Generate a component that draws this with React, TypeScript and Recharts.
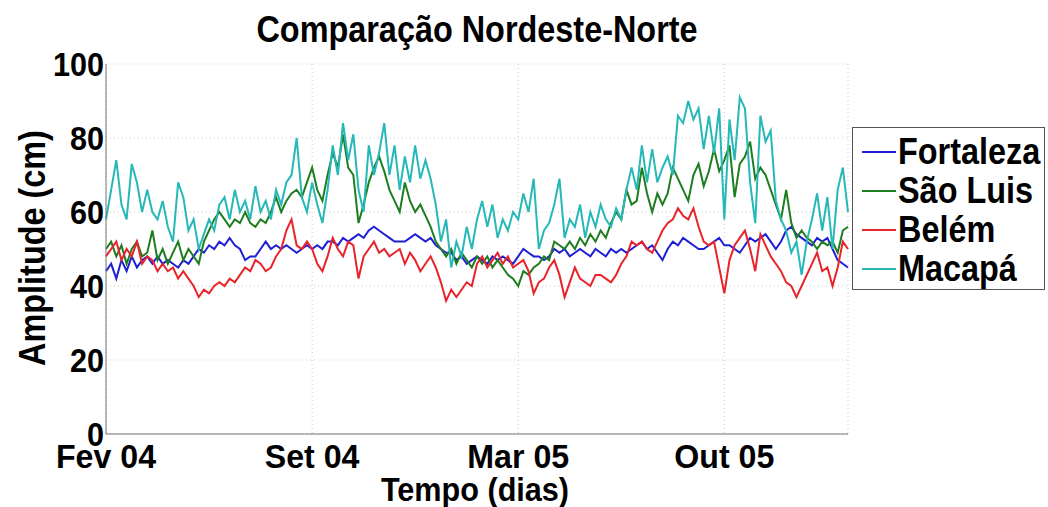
import React from "react";
import {
  LineChart,
  Line,
  XAxis,
  YAxis,
  CartesianGrid,
} from "recharts";

// dias desde Fev 04, amostrado a cada 5 dias
const days = Array.from({ length: 145 }, (_, i) => i * 5);

const xTicks = [0, 200, 400, 600];
const xTickLabels = ["Fev 04", "Set 04", "Mar 05", "Out 05"];
const yTicks = [0, 20, 40, 60, 80, 100];

const fortaleza = [
  44, 46, 42, 47, 44, 48, 45, 47, 48, 46, 48, 46, 47, 46, 45, 47, 46, 48, 50, 49,
  51, 50, 52, 51, 53, 51, 50, 47, 48, 48, 50, 52, 50, 51, 50, 51, 50, 49, 50, 51,
  50, 51, 50, 52, 52, 51, 53, 52, 53, 54, 53, 55, 56, 55, 54, 53, 52, 52, 52, 53,
  54, 53, 52, 53, 51, 50, 49, 49, 47, 48, 46, 47, 48, 47, 46, 48, 47, 48, 47, 46,
  48, 50, 49, 48, 48, 47, 48, 50, 49, 50, 48, 49, 50, 49, 48, 50, 49, 48, 50, 49,
  50, 49, 50, 51, 52, 50, 51, 49, 47, 50, 52, 51, 53, 52, 51, 50, 50, 51, 52, 53,
  51, 51, 50, 49, 51, 53, 52, 53, 54, 52, 50, 52, 55, 56, 54, 53, 52, 51, 53, 52,
  53, 50, 47, 46, 45,
];

const saoLuis = [
  50, 52, 48, 51, 46, 50, 52, 48, 49, 55, 47, 50, 46, 49, 52, 47, 50, 48, 46, 52,
  55, 58, 60, 58, 56, 58, 57, 60, 57, 56, 58, 57, 60, 64, 60, 63, 65, 66, 64, 68,
  72, 66, 63, 70, 76, 72, 81, 72, 70, 57, 62, 68, 72, 75, 71, 66, 63, 60, 68, 63,
  60, 62, 59, 56, 52, 50, 48, 50, 46, 49, 47, 45, 48, 46, 48, 45, 47, 45, 43, 42,
  40, 44, 43, 45, 46, 48, 47, 52, 51, 50, 52, 50, 53, 51, 54, 52, 55, 53, 57, 60,
  58, 66, 62, 63, 72, 65, 60, 65, 62, 65, 72, 69, 66, 63, 70, 73, 67, 71, 77, 71,
  74, 78, 64, 73, 75, 79, 69, 72, 70, 66, 62, 58, 66, 57, 53, 55, 53, 52, 50, 52,
  51, 52, 49, 55, 56,
];

const belem = [
  48, 50, 52, 47, 50, 48, 52, 46, 48, 47, 44, 46, 44, 45, 42, 44, 42, 40, 37, 39,
  38, 40, 41, 40, 42, 41, 43, 45, 44, 47, 46, 44, 45, 48, 50, 55, 58, 51, 50, 52,
  50, 46, 44, 48, 53, 50, 48, 52, 51, 42, 48, 50, 52, 49, 50, 48, 49, 50, 46, 49,
  47, 44, 46, 48, 45, 41, 36, 39, 37, 39, 41, 40, 46, 48, 45, 47, 49, 46, 48, 45,
  46, 47, 44, 38, 41, 42, 45, 47, 43, 37, 41, 45, 42, 41, 40, 43, 43, 42, 41, 43,
  46, 48, 52, 51, 52, 50, 49, 52, 55, 57, 58, 61, 59, 58, 61, 56, 52, 51, 52, 45,
  38, 47, 51, 53, 55, 50, 44, 54, 51, 48, 46, 44, 41, 40, 37, 40, 43, 46, 49, 44,
  45, 40, 45, 52, 50,
];

const macapa = [
  58, 66, 74, 62, 58, 73, 68, 60, 66, 60, 58, 63, 56, 52, 68, 64, 55, 58, 50, 54,
  58, 55, 62, 64, 58, 66, 60, 63, 58, 67, 60, 63, 58, 66, 62, 68, 70, 80, 64, 60,
  68, 62, 57, 66, 78, 70, 84, 74, 81, 66, 60, 78, 70, 76, 84, 70, 78, 66, 75, 68,
  78, 69, 74, 69, 62, 52, 58, 45, 52, 48, 56, 50, 58, 63, 56, 62, 53, 58, 55, 60,
  58, 65, 60, 69, 50, 55, 57, 62, 69, 53, 58, 56, 62, 53, 60, 56, 62, 58, 56, 61,
  58, 66, 72, 66, 78, 68, 77, 68, 72, 75, 70, 86, 84, 90, 85, 88, 77, 86, 76, 88,
  58, 85, 74, 91, 88, 68, 57, 86, 79, 82, 63, 58, 55, 49, 52, 43, 52, 58, 65, 55,
  64, 50, 66, 72, 60,
];

const series = [
  { key: "fortaleza", name: "Fortaleza", color: "#1f1fd6" },
  { key: "saoLuis", name: "São Luis", color: "#1e7d1e" },
  { key: "belem", name: "Belém", color: "#e8242a" },
  { key: "macapa", name: "Macapá", color: "#26b8b8" },
];

const data = days.map((d, i) => ({
  day: d,
  fortaleza: fortaleza[i],
  saoLuis: saoLuis[i],
  belem: belem[i],
  macapa: macapa[i],
}));

const font = "'Liberation Sans', Arial, sans-serif";
const SX = 0.9; // texto um pouco estreito, como no original

const XTick = (props: any) => {
  const { x, y, payload } = props;
  return (
    <g transform={`translate(${x},${y + 34})`}>
      <text
        transform={`scale(${SX * 1.05},1)`}
        textAnchor="middle"
        fontFamily={font}
        fontWeight={700}
        fontSize={34}
        fill="#000"
      >
        {xTickLabels[xTicks.indexOf(payload.value)]}
      </text>
    </g>
  );
};

const YTick = (props: any) => {
  const { x, y, payload } = props;
  return (
    <g transform={`translate(${x - 2},${y + 12})`}>
      <text
        transform={`scale(${SX},1)`}
        textAnchor="end"
        fontFamily={font}
        fontWeight={700}
        fontSize={34}
        fill="#000"
      >
        {payload.value}
      </text>
    </g>
  );
};

const textStyle: React.CSSProperties = {
  position: "absolute",
  fontFamily: font,
  fontWeight: 700,
  fontSize: 36,
  lineHeight: 1,
  color: "#000",
  whiteSpace: "nowrap",
};

const App = () => {
  return (
    <div style={{ position: "absolute", left: 0, top: 0, width: 1048, height: 507, background: "#fff" }}>
      <LineChart
        width={1048}
        height={507}
        data={data}
        margin={{ top: 64, right: 200, bottom: 43, left: 46 }}
      >
        <CartesianGrid stroke="#c8c8c8" strokeDasharray="1 3" />
        <XAxis
          dataKey="day"
          type="number"
          domain={[0, 720]}
          ticks={xTicks}
          tick={<XTick />}
          tickLine={false}
          tickSize={0}
          tickMargin={0}
          height={30}
          axisLine={{ stroke: "#777" }}
          interval={0}
        />
        <XAxis xAxisId="top" orientation="top" dataKey="day" type="number" domain={[0, 720]} tick={false} tickLine={false} height={0} axisLine={{ stroke: "#777" }} />
        <YAxis
          domain={[0, 100]}
          ticks={yTicks}
          tick={<YTick />}
          tickLine={false}
          tickSize={0}
          tickMargin={0}
          width={60}
          axisLine={{ stroke: "#777" }}
          interval={0}
        />
        <YAxis yAxisId="right" orientation="right" domain={[0, 100]} tick={false} tickLine={false} width={0} axisLine={{ stroke: "#777" }} />
        {series.map((s) => (
          <Line
            key={s.key}
            dataKey={s.key}
            name={s.name}
            stroke={s.color}
            strokeWidth={2}
            dot={false}
            type="linear"
            isAnimationActive={false}
          />
        ))}
      </LineChart>
      <div style={{ ...textStyle, left: 0, width: 954, top: 12, textAlign: "center", transform: `scaleX(${SX})` }}>
        Comparação Nordeste-Norte
      </div>
      <div
        style={{
          ...textStyle,
          fontSize: 34,
          lineHeight: "30px",
          left: 0,
          width: 950,
          top: 474,
          textAlign: "center",
          transform: `scaleX(${SX})`,
        }}
      >
        Tempo (dias)
      </div>
      <div
        style={{
          ...textStyle,
          left: 33,
          top: 248,
          transform: `translate(-50%, -50%) rotate(-90deg) scaleX(${SX})`,
        }}
      >
        Amplitude (cm)
      </div>
      <div
        style={{
          position: "absolute",
          left: 852,
          top: 127,
          width: 193,
          height: 163,
          boxSizing: "border-box",
          border: "1px solid #555",
          background: "#fff",
          padding: "4px 0 0 9px",
          fontFamily: font,
          fontWeight: 700,
          fontSize: 36,
          lineHeight: "39px",
          color: "#000",
        }}
      >
        {series.map((s) => (
          <div key={s.key} style={{ display: "flex", alignItems: "center", whiteSpace: "nowrap" }}>
            <span
              style={{
                display: "inline-block",
                width: 34,
                height: 2,
                background: s.color,
                marginRight: 2,
                flex: "none",
              }}
            />
            <span style={{ display: "inline-block", transform: `scaleX(${SX})`, transformOrigin: "left center" }}>
              {s.name}
            </span>
          </div>
        ))}
      </div>
    </div>
  );
};

export default App;
